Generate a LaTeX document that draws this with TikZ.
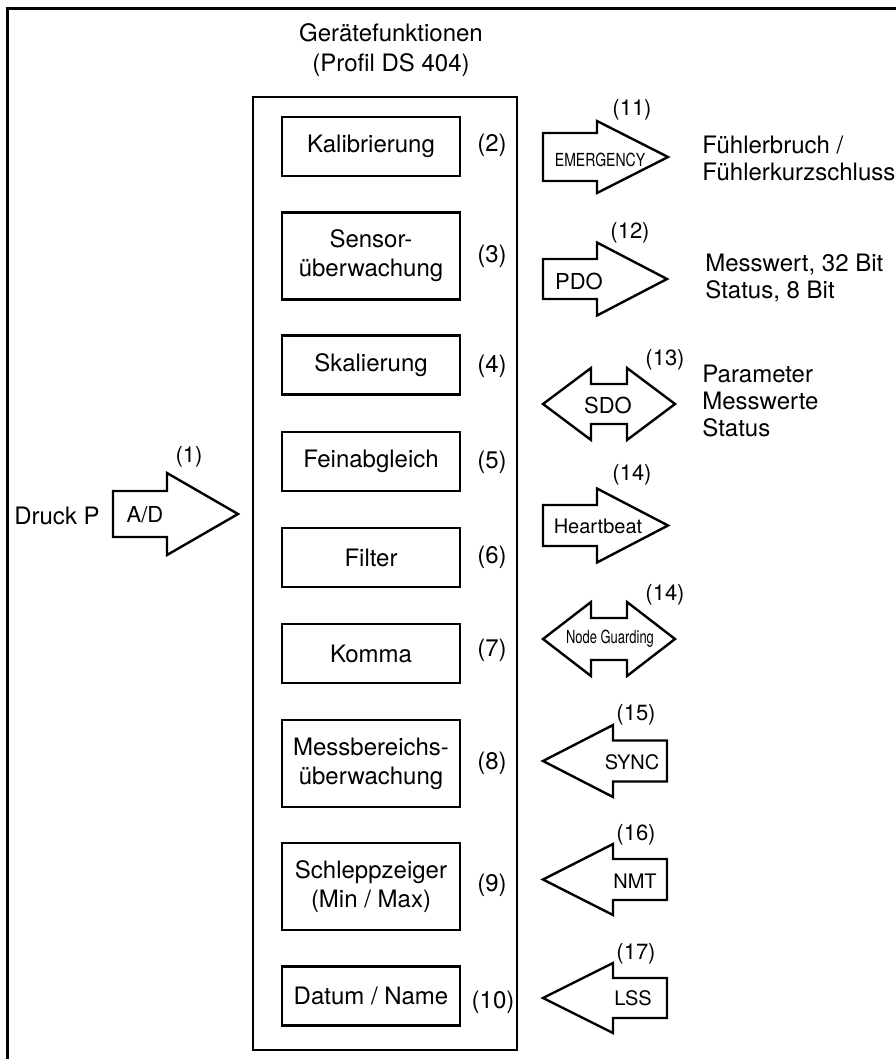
\documentclass[tikz,border=0pt]{standalone}
\usepackage{fontspec}
\setmainfont{TeX Gyre Heros}
\newcommand{\fsz}[2]{\fontsize{#1}{#2}\selectfont}
% right arrow: x0, xbase, xtip, y, body half, head half
\newcommand{\rarr}[6]{\draw[arrshape] (#1,{#4-#5}) -- (#2,{#4-#5}) -- (#2,{#4-#6}) -- (#3,#4) -- (#2,{#4+#6}) -- (#2,{#4+#5}) -- (#1,{#4+#5}) -- cycle;}
% left arrow: y, body half, head half
\newcommand{\larr}[3]{\draw[arrshape] (543,#1) -- (613,{#1-#3}) -- (613,{#1-#2}) -- (667,{#1-#2}) -- (667,{#1+#2}) -- (613,{#1+#2}) -- (613,{#1+#3}) -- cycle;}
% double arrow: y, body half, head half
\newcommand{\darr}[3]{\draw[arrshape] (543,#1) -- (591,{#1-#3}) -- (591,{#1-#2}) -- (627,{#1-#2}) -- (627,{#1-#3}) -- (675,#1) -- (627,{#1+#3}) -- (627,{#1+#2}) -- (591,{#1+#2}) -- (591,{#1+#3}) -- cycle;}
\begin{document}
\begin{tikzpicture}[x=0.5pt,y=-0.5pt,
  fnbox/.style={draw,line width=1.25pt,minimum width=89pt,minimum height=29.5pt,align=center,inner sep=0pt,font=\fsz{12}{14.5}},
  tallbox/.style={fnbox,minimum height=43.5pt},
  numlbl/.style={inner sep=0pt,font=\fsz{12}{14.5}},
  arrlbl/.style={inner sep=0pt,font=\fsz{11}{13}},
  inlbl/.style={inner sep=0pt,font=\fsz{11}{13}},
  sidetext/.style={inner sep=0pt,anchor=west,align=left,font=\fsz{12}{13.5}},
  arrshape/.style={draw,line width=1.2pt,line join=miter,fill=white}]
\useasboundingbox (0,0) rectangle (895,1059);
% outer frame
\draw[line width=1.8pt] (7.5,1062) -- (7.5,8.5) -- (898,8.5);
% title
\node[inner sep=0pt,align=center,font=\fsz{12}{15}] (title) at (391,50) {Gerätefunktionen\\(Profil DS 404)};
% device box
\node[draw,line width=1.25pt,minimum width=132pt,minimum height=476.5pt,inner sep=0pt] (dev) at (385,573.5) {};
% function boxes
\node[fnbox] (kal) at (371,146.5) {Kalibrierung};
\node[tallbox] (sens) at (371,256) {Sensor-\\überwachung};
\node[fnbox] (skal) at (371,365) {Skalierung};
\node[fnbox] (fein) at (371,461.5) {Feinabgleich};
\node[fnbox] (filt) at (371,557.5) {Filter};
\node[fnbox] (komma) at (371,653.5) {Komma};
\node[tallbox] (mess) at (371,763.5) {Messbereichs-\\überwachung};
\node[tallbox] (schl) at (371,886.5) {Schleppzeiger\\(Min / Max)};
\node[fnbox] (dat) at (371,996) {Datum / Name};
% numbers
\node[numlbl] (n2) at (492,145) {(2)};
\node[numlbl] (n3) at (492,256) {(3)};
\node[numlbl] (n4) at (492,366) {(4)};
\node[numlbl] (n5) at (492,462) {(5)};
\node[numlbl] (n6) at (492,557) {(6)};
\node[numlbl] (n7) at (492,650) {(7)};
\node[numlbl] (n8) at (492,763) {(8)};
\node[numlbl] (n9) at (492,885) {(9)};
\node[numlbl] (n10) at (493,1002) {(10)};
% input A/D
\rarr{113}{167}{238}{514}{23}{41}
\node[inner sep=0pt,font=\fsz{12}{14}] (druck) at (57,516) {Druck P};
\node[inlbl] (ad) at (145,515) {A/D};
\node[arrlbl] (n1) at (189,457) {(1)};
% EMERGENCY
\rarr{543}{597}{668}{157}{24}{36}
\node[inner sep=0pt] (emcy) at (600,160) {\scalebox{0.78}[1]{\fsz{9}{10}EMERGENCY}};
\node[arrlbl] (n11) at (632,110) {(11)};
\node[sidetext] (emtxt) at (702,158) {Fühlerbruch /\\Fühlerkurzschluss};
% PDO
\rarr{543}{597}{667}{279}{20}{36.5}
\node[inlbl] (pdo) at (579,281) {PDO};
\node[arrlbl] (n12) at (630,233) {(12)};
\node[sidetext] (pdotxt) at (705,278) {Messwert, 32 Bit\\Status, 8 Bit};
% SDO
\darr{404}{20}{36}
\node[inlbl] (sdo) at (608,405) {SDO};
\node[arrlbl] (n13) at (665,360) {(13)};
\node[sidetext] (sdotxt) at (702,401) {Parameter\\Messwerte\\Status};
% Heartbeat
\rarr{543}{597}{668}{525.5}{20.5}{37}
\node[inner sep=0pt,font=\fsz{10}{12}] (hb) at (598,526) {Heartbeat};
\node[arrlbl] (n14a) at (632,475) {(14)};
% Node Guarding
\darr{639}{21}{37}
\node[inner sep=0pt] (ng) at (610,639) {\scalebox{0.72}[1]{\fsz{9}{10}Node Guarding}};
\node[arrlbl] (n14b) at (665,595) {(14)};
% SYNC
\larr{761}{20.5}{36}
\node[inner sep=0pt,font=\fsz{10}{12}] (sync) at (632,762) {SYNC};
\node[arrlbl] (n15) at (636,715) {(15)};
% NMT
\larr{879.5}{20.5}{35.5}
\node[inner sep=0pt,font=\fsz{10}{12}] (nmt) at (635,881) {NMT};
\node[arrlbl] (n16) at (636,835) {(16)};
% LSS
\larr{998}{20}{35}
\node[inner sep=0pt,font=\fsz{10}{12}] (lss) at (633,998) {LSS};
\node[arrlbl] (n17) at (636,954) {(17)};
\end{tikzpicture}
\end{document}
